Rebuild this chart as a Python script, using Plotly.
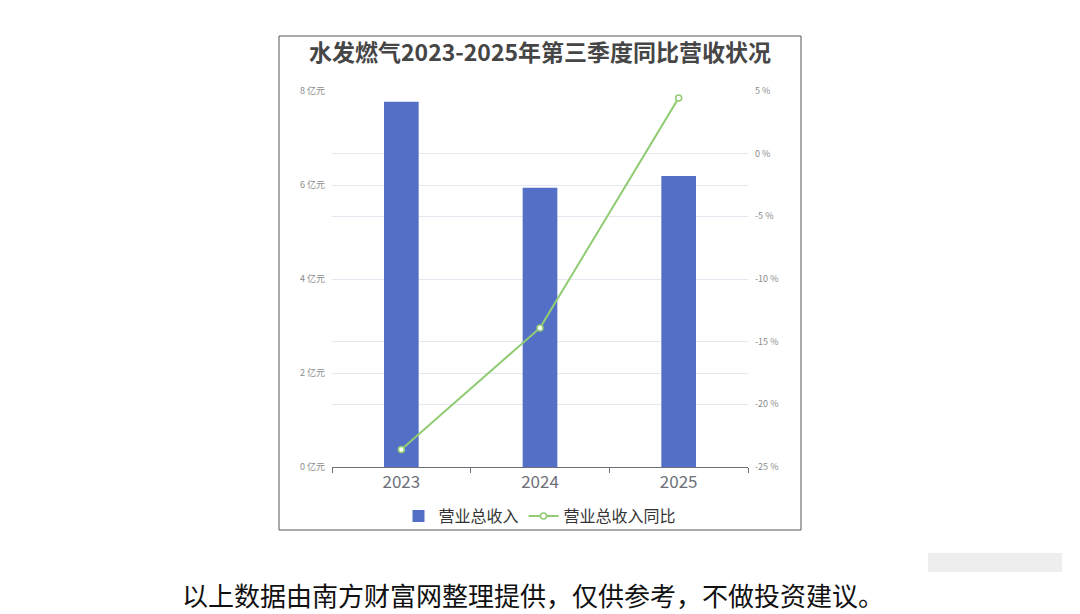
import plotly.graph_objects as go

years = ["2023", "2024", "2025"]
revenue = [7.77, 5.94, 6.19]          # 亿元
yoy = [-23.6, -13.9, 4.45]            # %
left_ticks = [0, 2, 4, 6, 8]
left_ticktext = ["0 亿元", "2 亿元", "4 亿元", "6 亿元", "8 亿元"]
right_ticks = [-25, -20, -15, -10, -5, 0, 5]
right_ticktext = ["-25 %", "-20 %", "-15 %", "-10 %", "-5 %", "0 %", "5 %"]

title_text = "水发燃气2023-2025年第三季度同比营收状况"
caption_text = "以上数据由南方财富网整理提供，仅供参考，不做投资建议。"
font_cjk = "Noto Sans CJK SC, Noto Sans, sans-serif"

W, H = 1080, 614
L, R, T, B = 332, 748, 91, 467

def px_x(px):
    return (px - L) / (R - L)

def px_y(py):
    return (B - py) / (B - T)

fig = go.Figure()
fig.add_trace(go.Bar(
    x=years, y=revenue, name="营业总收入",
    marker=dict(color="#5470c6", line=dict(width=0)),
    width=0.25, yaxis="y",
))
fig.add_trace(go.Scatter(
    x=years, y=yoy, name="营业总收入同比", yaxis="y2",
    mode="lines+markers",
    line=dict(color="#91cc75", width=2),
    marker=dict(symbol="circle", size=6, color="white",
                line=dict(color="#91cc75", width=1.5)),
))

fig.update_layout(
    width=W, height=H,
    paper_bgcolor="white", plot_bgcolor="white",
    margin=dict(l=L, r=W - R, t=T, b=H - B, pad=0),
    showlegend=True,
    legend=dict(orientation="h", x=0.5, xanchor="center",
                y=px_y(516), yanchor="middle",
                font=dict(family=font_cjk, size=16, color="#333333"),
                itemwidth=30, bgcolor="rgba(0,0,0,0)"),
    xaxis=dict(
        type="category", showgrid=False,
        showline=True, linecolor="#6e7079", linewidth=1,
        ticks="outside", tickson="boundaries", ticklen=5, tickcolor="#6e7079",
        tickfont=dict(family=font_cjk, size=17, color="#6e7079"),
    ),
    yaxis=dict(
        range=[0, 8], tickmode="array", tickvals=left_ticks, ticktext=left_ticktext,
        showgrid=True, gridcolor="#e4e8f0", gridwidth=1,
        zeroline=False, showline=False,
        tickfont=dict(family=font_cjk, size=9, color="#8a8a8a"),
        ticks="", ticklabelstandoff=6,
    ),
    yaxis2=dict(
        range=[-25, 5], tickmode="array", tickvals=right_ticks, ticktext=right_ticktext,
        overlaying="y", side="right",
        showgrid=True, gridcolor="#e4e8f0", gridwidth=1,
        zeroline=False, showline=False,
        tickfont=dict(family=font_cjk, size=9, color="#8a8a8a"),
        ticks="", ticklabelstandoff=6,
    ),
    shapes=[
        dict(type="rect", xref="paper", yref="paper",
             x0=px_x(279), x1=px_x(801), y0=px_y(530), y1=px_y(36),
             line=dict(color="#555555", width=1), fillcolor="rgba(0,0,0,0)",
             layer="below"),
        dict(type="rect", xref="paper", yref="paper",
             x0=px_x(928), x1=px_x(1062), y0=px_y(572), y1=px_y(553),
             line=dict(width=0), fillcolor="#eeeeee", layer="below"),
    ],
    annotations=[
        dict(text=f"<b>{title_text}</b>", xref="paper", yref="paper",
             x=px_x(540), y=px_y(51), xanchor="center", yanchor="middle",
             showarrow=False,
             font=dict(family=font_cjk, size=23, color="#464646")),
        dict(text=caption_text, xref="paper", yref="paper",
             x=px_x(533), y=px_y(594), xanchor="center", yanchor="middle",
             showarrow=False,
             font=dict(family=font_cjk, size=26, color="#111111")),
    ],
)

fig.write_html("out.html",
               config={"displayModeBar": False},
               post_script="document.body.style.margin='0';document.body.style.overflow='hidden';")
